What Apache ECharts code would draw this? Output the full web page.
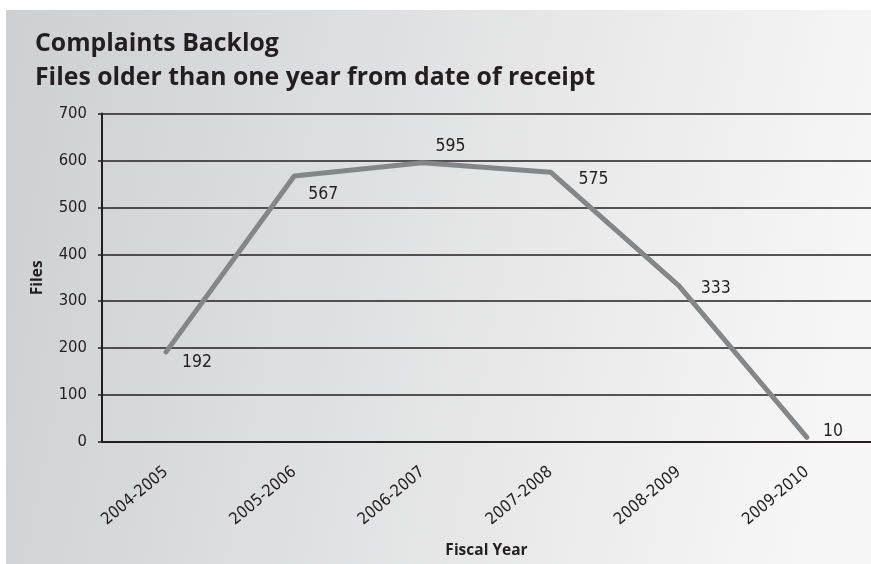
<!DOCTYPE html>
<html>
<head>
<meta charset="utf-8">
<script src="https://cdn.jsdelivr.net/npm/echarts@6/dist/echarts.min.js"></script>
<style>
html,body{margin:0;padding:0;background:#fff;}
#chart{width:871px;height:564px;}
</style>
</head>
<body>
<div id="chart"></div>
<script>
var titleLines = ['Complaints Backlog', 'Files older than one year from date of receipt'];
var categories = ['2004-2005', '2005-2006', '2006-2007', '2007-2008', '2008-2009', '2009-2010'];
var files = [192, 567, 595, 575, 333, 10];
var yTicks = [0, 100, 200, 300, 400, 500, 600, 700];
var xAxisName = 'Fiscal Year';
var yAxisName = 'Files';

// label placement styling (offsets relative to each point)
var labelOffsets = [[15, 11], [13, 19], [12, -16], [27, 7], [21, 3], [15, -6]];

var narrow = "'Liberation Sans Narrow', 'DejaVu Sans Condensed', sans-serif";
var bold = "'Open Sans', 'Noto Sans', sans-serif";

var chart = echarts.init(document.getElementById('chart'), null, {renderer: 'canvas'});

var seriesData = files.map(function (v, i) {
  return {
    value: v,
    label: {
      show: true,
      position: 'right',
      distance: 0,
      offset: labelOffsets[i],
      color: '#231f20',
      fontFamily: narrow,
      fontSize: 17.5
    }
  };
});

var option = {
  animation: false,
  graphic: [{
    type: 'rect',
    z: -10,
    silent: true,
    shape: {x: 6, y: 10, width: 865, height: 554},
    style: {
      fill: new echarts.graphic.LinearGradient(0, 0, 1, 0.3, [
        {offset: 0, color: '#cecfd1'},
        {offset: 1, color: '#f6f6f6'}
      ])
    }
  }],
  title: {
    text: titleLines.join('\n'),
    left: 35,
    top: 27,
    padding: 0,
    textStyle: {
      fontFamily: bold,
      fontWeight: 'bold',
      fontSize: 24.8,
      lineHeight: 34,
      color: '#231f20'
    }
  },
  grid: {
    left: 102,
    right: -9,
    top: 113.5,
    bottom: 121.5,
    containLabel: false
  },
  xAxis: {
    type: 'category',
    data: categories,
    boundaryGap: true,
    name: xAxisName,
    nameLocation: 'middle',
    nameGap: 101,
    nameTextStyle: {
      fontFamily: bold,
      fontWeight: 'bold',
      fontSize: 15.5,
      color: '#231f20'
    },
    axisLine: {show: true, lineStyle: {color: '#231f20', width: 2}},
    axisTick: {show: false},
    axisLabel: {
      rotate: 40,
      margin: 28,
      interval: 0,
      fontFamily: narrow,
      fontSize: 16.5,
      color: '#231f20'
    },
    splitLine: {show: false}
  },
  yAxis: {
    type: 'value',
    min: yTicks[0],
    max: yTicks[yTicks.length - 1],
    interval: yTicks[1] - yTicks[0],
    name: yAxisName,
    nameLocation: 'middle',
    nameGap: 56,
    nameRotate: 90,
    nameTextStyle: {
      fontFamily: bold,
      fontWeight: 'bold',
      fontSize: 15.5,
      color: '#231f20'
    },
    axisLine: {show: true, lineStyle: {color: '#231f20', width: 2}},
    axisTick: {show: true, length: 4, inside: false, lineStyle: {color: '#231f20', width: 1.5}},
    axisLabel: {
      margin: 15,
      fontFamily: narrow,
      fontSize: 16.5,
      color: '#231f20'
    },
    splitLine: {show: true, lineStyle: {color: '#231f20', width: 1.6}}
  },
  series: [{
    type: 'line',
    data: seriesData,
    symbol: 'circle',
    symbolSize: 2,
    showSymbol: true,
    lineStyle: {color: '#858688', width: 5, cap: 'round', join: 'round'},
    itemStyle: {color: '#858688'},
    z: 3
  }]
};

chart.setOption(option);
</script>
</body>
</html>
